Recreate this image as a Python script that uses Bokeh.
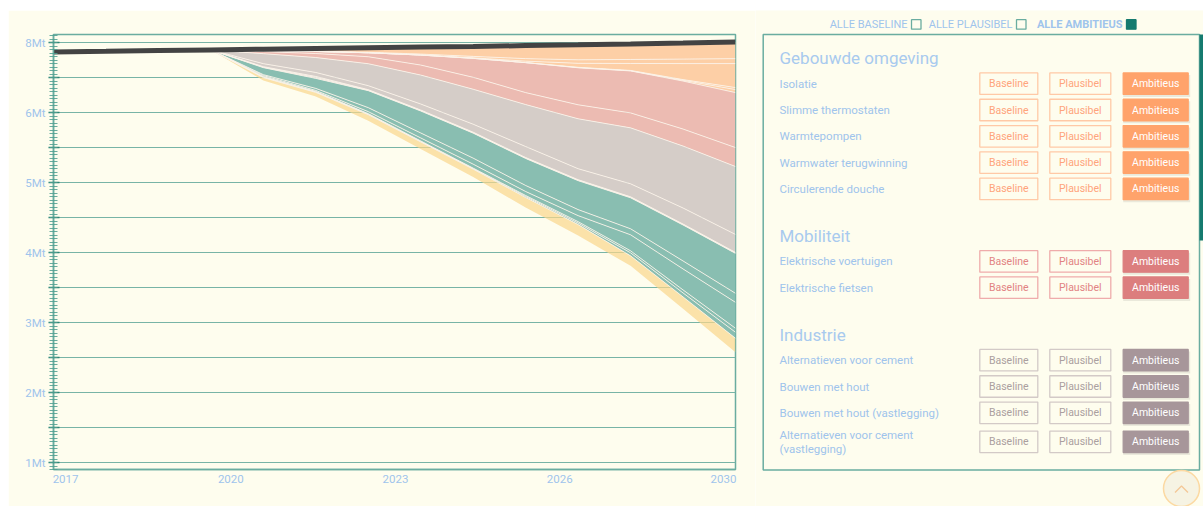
import json
import numpy as np
from bokeh.plotting import figure
from bokeh.models import ColumnDataSource, Range1d, FixedTicker, CustomJSTickFormatter, Spacer
from bokeh.layouts import row, column
from bokeh.embed import file_html
from bokeh.resources import INLINE
from bokeh.core.properties import value

# ---------------- data (Mt) ----------------
years = list(range(2017, 2031))
baseline = [6.871, 6.88, 6.89, 6.90, 6.91, 6.92, 6.93, 6.94, 6.95, 6.961, 6.972, 6.984, 6.997, 7.011]

# Gebouwde omgeving
isolatie = [0, 0, 0, 0, .021, .043, .064, .100, .143, .186, .214, .221, .229, .236]
slimme_thermostaten = [0, 0, 0, 0, 0, 0, .007, .014, .021, .036, .050, .057, .064, .071]
warmtepompen = [0, 0, 0, 0, 0, 0, 0, 0, .007, .021, .057, .100, .229, .343]
warmwater_terugwinning = [0, 0, 0, 0, 0, 0, 0, 0, 0, 0, .004, .004, .010, .029]
circulerende_douche = [0, 0, 0, 0, 0, 0, 0, 0, 0, 0, .003, .003, .011, .043]
# Mobiliteit
elektrische_voertuigen = [0, 0, 0, 0, .014, .029, .057, .143, .271, .429, .529, .600, .686, .786]
elektrische_fietsen = [0, 0, 0, 0, .029, .057, .100, .143, .171, .171, .200, .214, .243, .271]
# Industrie
alt_cement = [0, 0, 0, 0, .143, .214, .314, .414, .500, .600, .714, .800, .886, .971]
bouwen_hout = [0, 0, 0, 0, .043, .057, .057, .086, .114, .157, .157, .186, .229, .257]
bouwen_hout_vast = [0, 0, 0, 0, .007, .014, .007, .007, .007, .007, .007, .007, .007, .007]
alt_cement_vast = [0, 0, 0, 0, .007, .014, .007, .007, .007, .007, .007, .007, .007, .007]
# further categories (scrolled out of the panel)
overig_1 = [0, 0, 0, 0, .100, .143, .243, .314, .357, .386, .414, .443, .514, .571]
overig_2 = [0, 0, 0, 0, .014, .029, .057, .071, .086, .086, .086, .086, .114, .129]
overig_3 = [0, 0, 0, 0, .014, .014, .029, .043, .057, .057, .086, .229, .300, .371]
overig_4 = [0, 0, 0, 0, .007, .007, .007, .007, .007, .014, .021, .029, .043, .057]
overig_5 = [0, 0, 0, 0, .007, .007, .007, .007, .007, .014, .021, .043, .057, .086]
overig_6 = [0, 0, 0, 0, .043, .057, .086, .100, .114, .143, .157, .143, .171, .200]

y_tick_values = [1, 2, 3, 4, 5, 6, 7]
y_tick_labels = ["1Mt", "2Mt", "3Mt", "4Mt", "5Mt", "6Mt", "8Mt"]
x_tick_labels = ["2017", "2020", "2023", "2026", "2030"]
x_tick_pos = [2017.23, 2020.38, 2023.52, 2026.65, 2029.77]

groups = ["Gebouwde omgeving", "Mobiliteit", "Industrie"]
items = [
    ["Isolatie", "Slimme thermostaten", "Warmtepompen", "Warmwater terugwinning", "Circulerende douche"],
    ["Elektrische voertuigen", "Elektrische fietsen"],
    ["Alternatieven voor cement", "Bouwen met hout", "Bouwen met hout (vastlegging)",
     "Alternatieven voor cement\n(vastlegging)"],
]
buttons = ["Baseline", "Plausibel", "Ambitieus"]
legend_labels = ["ALLE BASELINE", "ALLE PLAUSIBEL", "ALLE AMBITIEUS"]

# ---------------- styles ----------------
CREAM = "#fefdee"
TEAL = "#6aada0"
DARK_TEAL = "#157b6f"
LABEL_BLUE = "#9fc4ec"
ORANGE, PINK, GREY, GREEN, YELLOW = "#fdcfa6", "#ecbbb2", "#d5cdc8", "#89beb1", "#f9d58b"

layers = [
    (isolatie, ORANGE, 1.0), (slimme_thermostaten, ORANGE, 1.0), (warmtepompen, ORANGE, 1.0),
    (warmwater_terugwinning, ORANGE, 1.0), (circulerende_douche, ORANGE, 1.0),
    (elektrische_voertuigen, PINK, 1.0), (elektrische_fietsen, PINK, 1.0),
    (alt_cement, GREY, 1.0), (bouwen_hout, GREY, 1.0), (bouwen_hout_vast, GREY, 1.0), (alt_cement_vast, GREY, 1.0),
    (overig_1, GREEN, 1.0), (overig_2, GREEN, 1.0), (overig_3, GREEN, 1.0), (overig_4, GREEN, 1.0),
    (overig_5, GREEN, 1.0), (overig_6, YELLOW, 0.7),
]

# ---------------- chart ----------------
p = figure(width=747, height=496, x_range=Range1d(2017, 2030), y_range=Range1d(0.9, 7.12),
           output_backend="svg", toolbar_location=None,
           min_border_left=45, min_border_right=20, min_border_top=24, min_border_bottom=37)
p.frame_align = False
p.background_fill_color = CREAM
p.border_fill_color = CREAM
p.outline_line_color = TEAL
p.outline_line_width = 1.5

top = np.array(baseline, dtype=float)
bottoms = []
for vals, col, alpha in layers:
    bottom = top - np.array(vals, dtype=float)
    src = ColumnDataSource(dict(x=years, top=top, bottom=bottom))
    p.varea(x="x", y1="top", y2="bottom", source=src, fill_color=col, fill_alpha=alpha)
    bottoms.append(bottom)
    top = bottom
for b in bottoms[:-1]:
    p.line(years, b, line_color="#fbf3ea", line_width=1, line_alpha=0.85)
p.line(years, baseline, line_color="#434343", line_width=5)

# y axis
yt = [round(1 + 0.5 * i, 2) for i in range(13)]
ymin = [round(0.9 + 0.05 * i, 2) for i in range(125)]
ymap = {f"{v:.2f}": lab for v, lab in zip(y_tick_values, y_tick_labels)}
p.yaxis.ticker = FixedTicker(ticks=yt, minor_ticks=ymin)
p.yaxis.formatter = CustomJSTickFormatter(
    code="const m = %s; const k = tick.toFixed(2); return (k in m) ? m[k] : '';" % json.dumps(ymap))
p.yaxis.axis_line_color = TEAL
p.yaxis.axis_line_width = 1.5
p.yaxis.major_tick_line_color = "#2a8476"
p.yaxis.major_tick_line_width = 1.5
p.yaxis.major_tick_in = 6
p.yaxis.major_tick_out = 5
p.yaxis.minor_tick_line_color = "#4f9f8f"
p.yaxis.minor_tick_line_alpha = 0.85
p.yaxis.minor_tick_in = 4
p.yaxis.minor_tick_out = 4
p.yaxis.major_label_standoff = 3
p.yaxis.major_label_text_color = LABEL_BLUE
p.yaxis.major_label_text_font = "Roboto"
p.yaxis.major_label_text_font_size = "11.5px"

# x axis
xmap = {f"{v:.2f}": lab for v, lab in zip(x_tick_pos, x_tick_labels)}
p.xaxis.ticker = FixedTicker(ticks=x_tick_pos, minor_ticks=[])
p.xaxis.formatter = CustomJSTickFormatter(
    code="const m = %s; const k = tick.toFixed(2); return (k in m) ? m[k] : '';" % json.dumps(xmap))
p.xaxis.axis_line_color = TEAL
p.xaxis.axis_line_width = 1.5
p.xaxis.major_tick_line_color = None
p.xaxis.minor_tick_line_color = None
p.xaxis.major_tick_in = 0
p.xaxis.major_tick_out = 0
p.xaxis.major_label_standoff = 5
p.xaxis.major_label_text_color = LABEL_BLUE
p.xaxis.major_label_text_font = "Roboto"
p.xaxis.major_label_text_font_size = "11.5px"

p.xgrid.grid_line_color = None
p.ygrid.grid_line_color = "#78b4a6"
p.ygrid.grid_line_width = 1

# ---------------- panel ----------------
q = figure(width=448, height=496, x_range=Range1d(0, 448), y_range=Range1d(496, 0),
           output_backend="svg", toolbar_location=None, min_border=0,
           x_axis_location=None, y_axis_location=None)
q.frame_align = False
q.background_fill_color = CREAM
q.border_fill_color = CREAM
q.outline_line_color = None
q.grid.visible = False

# legend row
leg_box_left = [156, 261, 371]
q.text(x=[l - 4 for l in leg_box_left[:2]], y=[14, 14], text=legend_labels[:2],
       text_font=value("Roboto"), text_font_size="11px", text_color=LABEL_BLUE,
       text_align="right", text_baseline="middle")
q.text(x=[leg_box_left[2] - 4], y=[14], text=legend_labels[2:],
       text_font=value("Roboto"), text_font_size="11px", text_font_style="bold",
       text_color=LABEL_BLUE, text_align="right", text_baseline="middle")
q.quad(left=leg_box_left, right=[l + 9.5 for l in leg_box_left], top=[9.2] * 3, bottom=[18.7] * 3,
       fill_color=[None, None, DARK_TEAL], line_color=[TEAL, TEAL, DARK_TEAL], line_width=1.3)

# panel frame + scrollbar
q.quad(left=[7.7], right=[444], top=[24], bottom=[459.5], fill_color=None,
       line_color=TEAL, line_width=1.5)
q.quad(left=[444], right=[448], top=[24], bottom=[230], fill_color=DARK_TEAL, line_color=None)

palettes = [
    dict(outline="#ffc9a6", text="#ffa47c", fill="#ffa36b"),
    dict(outline="#efacab", text="#e28383", fill="#dc7e7e"),
    dict(outline="#d3cac7", text="#ab9f9f", fill="#a7969a"),
]
btn_left = [224.3, 294.3, 367.7]
btn_w = [58, 61, 65]
btn_h = 21.5

head_y, lab_t, lab_y = [], [], []
sh = dict(l=[], r=[], t=[], b=[])
bq = dict(l=[], r=[], t=[], b=[], fill=[], line=[])
bt = dict(x=[], y=[], t=[], c=[])
y = 47.7
for g, (gname, its) in enumerate(zip(groups, items)):
    head_y.append(y)
    ry = y + 25.5
    pal = palettes[g]
    cy = ry
    for i, it in enumerate(its):
        lines = it.split("\n")
        cy = ry + i * 26.3 + (2.7 if len(lines) > 1 else 0)
        for j, ln in enumerate(lines):
            lab_t.append(ln)
            lab_y.append(cy + (j - (len(lines) - 1) / 2) * 13.4)
        for b, bname in enumerate(buttons):
            l, r = btn_left[b], btn_left[b] + btn_w[b]
            bq["l"].append(l); bq["r"].append(r)
            bq["t"].append(cy - btn_h / 2); bq["b"].append(cy + btn_h / 2)
            if b == 2:
                bq["fill"].append(pal["fill"]); bq["line"].append(pal["fill"])
                bt["c"].append("#ffffff")
                sh["l"].append(l); sh["r"].append(r + 2)
                sh["t"].append(cy - btn_h / 2 + 2); sh["b"].append(cy + btn_h / 2 + 2.5)
            else:
                bq["fill"].append(CREAM); bq["line"].append(pal["outline"])
                bt["c"].append(pal["text"])
            bt["x"].append((l + r) / 2); bt["y"].append(cy); bt["t"].append(bname)
    y = cy + 47

q.text(x=[24] * len(groups), y=head_y, text=groups, text_font=value("Roboto"),
       text_font_size="17px", text_color="#a8caee", text_baseline="middle")
q.text(x=[24] * len(lab_t), y=lab_y, text=lab_t, text_font=value("Roboto"),
       text_font_size="11.5px", text_color=LABEL_BLUE, text_baseline="middle")
q.quad(left=sh["l"], right=sh["r"], top=sh["t"], bottom=sh["b"], fill_color="#000000",
       fill_alpha=0.08, line_color=None)
q.quad(left=bq["l"], right=bq["r"], top=bq["t"], bottom=bq["b"], fill_color=bq["fill"],
       line_color=bq["line"], line_width=1.3)
q.text(x=bt["x"], y=bt["y"], text=bt["t"], text_color=bt["c"], text_font=value("Roboto"),
       text_font_size="10.5px", text_align="center", text_baseline="middle")

# scroll-to-top button
q.circle(x=[426], y=[478], radius=18, fill_color="#f6f3e3", line_color="#fcd9a2", line_width=1.5)
q.line(x=[419.5, 426, 432.5], y=[482, 475.5, 482], line_color="#f4c797", line_width=1.3)

layout = column(Spacer(height=10), row(Spacer(width=8), p, q))
open("out.html", "w").write(file_html(layout, INLINE))
